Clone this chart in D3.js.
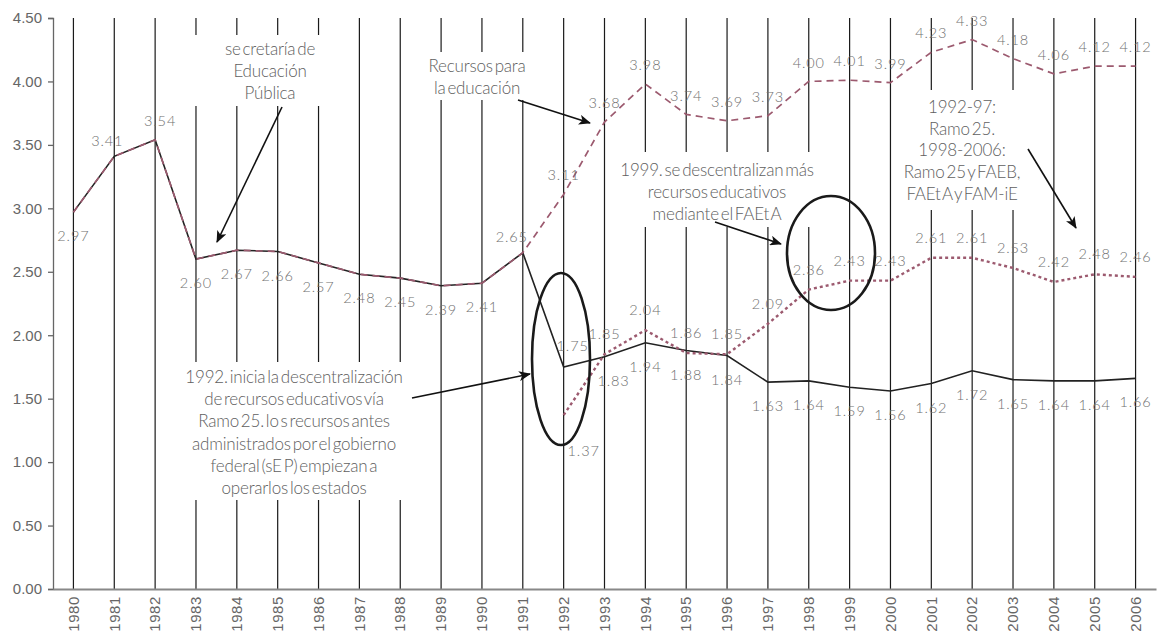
<!DOCTYPE html>
<html>
<head>
<meta charset="utf-8">
<script src="https://cdn.jsdelivr.net/npm/d3@7"></script>
<style>
  body { margin: 0; background: #fff; }
  svg { font-family: Lato, "Open Sans", sans-serif; font-weight: 300; }
  .tick-lbl { fill: #666; font-size: 15px; }
  .val { fill: #707070; font-size: 14.5px; letter-spacing: 0.9px; text-anchor: middle; }
  .note { fill: #606060; font-size: 17px; text-anchor: middle; word-spacing: -2.5px; letter-spacing: -0.2px; }
</style>
</head>
<body>
<div id="chart"></div>
<script>
const years = d3.range(1980, 2007);

// total federal spending (solid black), 1980-2006
const federal = [2.97, 3.41, 3.54, 2.60, 2.67, 2.66, 2.57, 2.48, 2.45, 2.39, 2.41, 2.65,
  1.75, 1.83, 1.94, 1.88, 1.84, 1.63, 1.64, 1.59, 1.56, 1.62, 1.72, 1.65, 1.64, 1.64, 1.66];

// "Recursos para la educación" (dashed), 1992-2006; before 1992 it equals federal
const recYears = d3.range(1992, 2007);
const recursos = [3.11, 3.68, 3.98, 3.74, 3.69, 3.73, 4.00, 4.01, 3.99, 4.23, 4.33, 4.18, 4.06, 4.12, 4.12];

// decentralised (dotted), 1992-2006
const descentral = [1.37, 1.85, 2.04, 1.86, 1.85, 2.09, 2.36, 2.43, 2.43, 2.61, 2.61, 2.53, 2.42, 2.48, 2.46];

const yTicks = d3.range(0, 4.51, 0.5);

const W = 1164, H = 634;
const margin = {top: 18, right: 8, bottom: 45, left: 53};
const mauve = '#9c5a6f';

const svg = d3.select('#chart').append('svg')
  .attr('width', W)
  .attr('height', H);

const x = d3.scaleBand()
  .domain(years)
  .range([margin.left, W - margin.right]);
const cx = d => x(d) + x.bandwidth() / 2;

const y = d3.scaleLinear()
  .domain([0, 4.5])
  .range([H - margin.bottom, margin.top]);

const defs = svg.append('defs');
defs.append('marker')
  .attr('id', 'arrow')
  .attr('viewBox', '0 0 12 10')
  .attr('refX', 11).attr('refY', 5)
  .attr('markerWidth', 12).attr('markerHeight', 10)
  .attr('markerUnits', 'userSpaceOnUse')
  .attr('orient', 'auto')
  .append('path')
  .attr('d', 'M0,0 L12,5 L0,10 L3,5 Z')
  .attr('fill', '#111');

// vertical year lines
svg.append('g').selectAll('line')
  .data(years).enter().append('line')
  .attr('x1', cx).attr('x2', cx)
  .attr('y1', y(4.5)).attr('y2', y(0))
  .attr('stroke', '#1a1a1a')
  .attr('stroke-width', 1.2);

// annotations (white boxes cover the year lines)
const notes = [
  {x: 270, y: 49, box: [185, 35, 145, 71], lines: ['se cretaría de', 'Educación', 'Pública']},
  {x: 477, y: 66, box: [430, 52, 105, 48], lines: ['Recursos para', 'la educación']},
  {x: 717, y: 170, box: [615, 152, 215, 75], lines: ['1999. se descentralizan más', 'recursos educativos', 'mediante el FAEt A']},
  {x: 962, y: 107, box: [905, 90, 135, 120], lines: ['1992-97:', 'Ramo 25.', '1998-2006:', 'Ramo 25 y FAEB,', 'FAEt A y FAM-iE'], lh: 21.7},
  {x: 294, y: 377, box: [180, 362, 235, 138], lines: ['1992. inicia la descentralización', 'de recursos educativos vía', 'Ramo 25. lo s recursos antes', 'administrados por el gobierno', 'federal (sE P) empiezan a', 'operarlos los estados']}
];

const ng = svg.append('g');
notes.forEach(n => {
  ng.append('rect')
    .attr('x', n.box[0]).attr('y', n.box[1])
    .attr('width', n.box[2]).attr('height', n.box[3])
    .attr('fill', '#fff');
  const t = ng.append('text').attr('class', 'note');
  n.lines.forEach((l, i) => {
    t.append('tspan')
      .attr('x', n.x)
      .attr('y', n.y + i * (n.lh || 22.2))
      .attr('dy', '0.35em')
      .text(l);
  });
});

// series
const line = d3.line().x(d => cx(d[0])).y(d => y(d[1]));
const fedPts = years.map((yr, i) => [yr, federal[i]]);
const sharedPts = fedPts.filter(d => d[0] <= 1991);
const recPts = sharedPts.concat(recYears.map((yr, i) => [yr, recursos[i]]));
const desPts = recYears.map((yr, i) => [yr, descentral[i]]);

svg.append('path')
  .attr('d', line(fedPts))
  .attr('fill', 'none')
  .attr('stroke', '#222')
  .attr('stroke-width', 1.6);

svg.append('path')
  .attr('d', line(recPts))
  .attr('fill', 'none')
  .attr('stroke', mauve)
  .attr('stroke-width', 1.7)
  .attr('stroke-dasharray', '7,5');

svg.append('path')
  .attr('d', line(desPts))
  .attr('fill', 'none')
  .attr('stroke', mauve)
  .attr('stroke-width', 2.4)
  .attr('stroke-dasharray', '3,3');

// value labels
const lg = svg.append('g');
const nudge = {1981: [-7, -15], 1982: [5, -19], 1991: [-11, -16]};
fedPts.forEach(([yr, v]) => {
  let [dx, dy] = nudge[yr] || [0, 24];
  if (yr === 1992) { dx = 9; dy = -21; }
  if (yr === 1993) { dx = 9; }
  lg.append('text').attr('class', 'val')
    .attr('x', cx(yr) + dx).attr('y', y(v) + dy)
    .attr('dy', '0.35em')
    .text(v.toFixed(2));
});
recYears.forEach((yr, i) => {
  lg.append('text').attr('class', 'val')
    .attr('x', cx(yr)).attr('y', y(recursos[i]) - 19)
    .attr('dy', '0.35em')
    .text(recursos[i].toFixed(2));
});
desPts.forEach(([yr, v]) => {
  const below = yr === 1992;
  lg.append('text').attr('class', 'val')
    .attr('x', cx(yr) + (below ? 20 : 0))
    .attr('y', y(v) + (below ? 36 : -20))
    .attr('dy', '0.35em')
    .text(v.toFixed(2));
});

// ellipses
const eg = svg.append('g')
  .attr('fill', 'none')
  .attr('stroke', '#1a1a1a')
  .attr('stroke-width', 2.6);
eg.append('ellipse').attr('cx', 561).attr('cy', 359).attr('rx', 29).attr('ry', 86);
eg.append('ellipse').attr('cx', 831).attr('cy', 253).attr('rx', 44).attr('ry', 57);

// arrows
const arrows = [
  [282, 107, 217, 242],
  [518, 100, 590, 123],
  [715, 222, 781, 244],
  [1028, 149, 1076, 228],
  [412, 398, 530, 374]
];
svg.append('g').selectAll('line')
  .data(arrows).enter().append('line')
  .attr('x1', d => d[0]).attr('y1', d => d[1])
  .attr('x2', d => d[2]).attr('y2', d => d[3])
  .attr('stroke', '#111')
  .attr('stroke-width', 1.6)
  .attr('marker-end', 'url(#arrow)');

// axes
const yAxis = svg.append('g')
  .attr('transform', `translate(${margin.left},0)`)
  .call(d3.axisLeft(y).tickValues(yTicks).tickFormat(d3.format('.2f')).tickSize(5).tickPadding(6));
yAxis.select('.domain').attr('stroke', '#666').attr('stroke-width', 1.3);
yAxis.selectAll('.tick line').attr('stroke', '#666').attr('stroke-width', 1.3);
yAxis.selectAll('.tick text').attr('class', 'tick-lbl').attr('font-family', null).attr('font-size', null);

const xAxis = svg.append('g')
  .attr('transform', `translate(0,${y(0)})`)
  .call(d3.axisBottom(x).tickSize(0).tickSizeOuter(0));
xAxis.select('.domain').attr('stroke', '#888').attr('stroke-width', 2);
xAxis.selectAll('.tick text')
  .attr('class', 'tick-lbl')
  .attr('font-family', null).attr('font-size', null)
  .attr('transform', 'rotate(-90)')
  .attr('text-anchor', 'end')
  .attr('x', -7).attr('y', 0).attr('dy', '0.35em')
  .style('font-size', '15px')
  .style('letter-spacing', '0.6px');
</script>
</body>
</html>
